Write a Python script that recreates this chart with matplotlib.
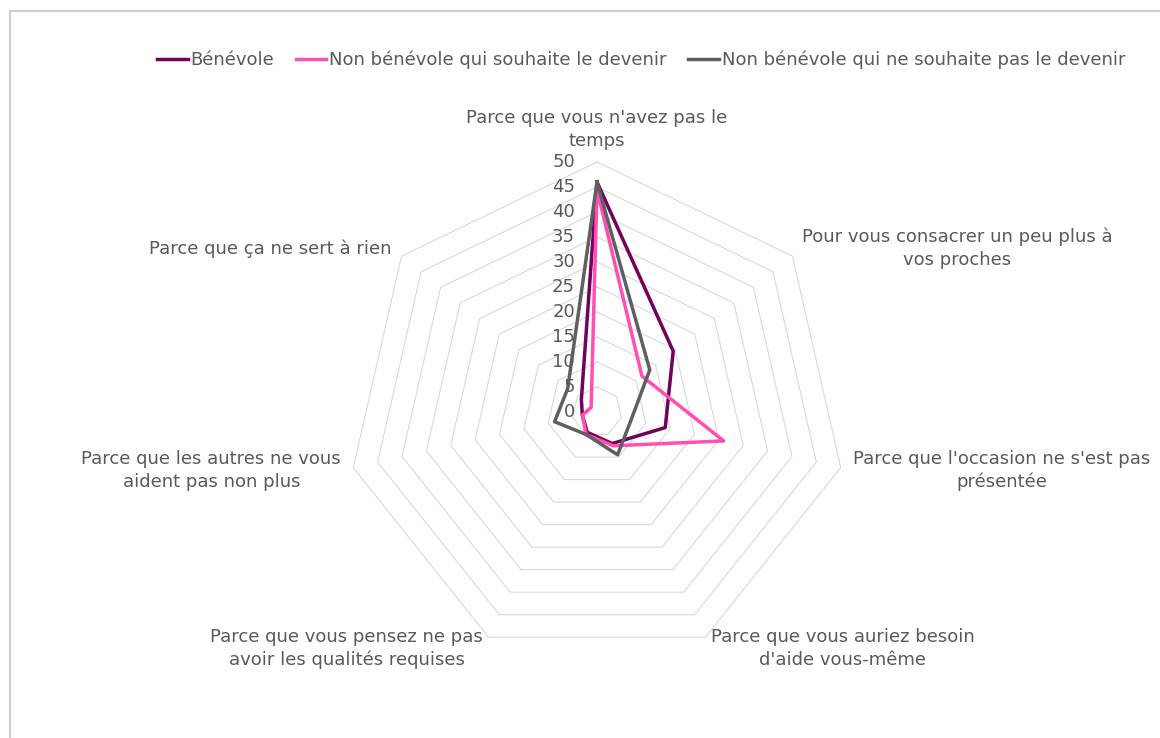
import numpy as np
import matplotlib
matplotlib.use("Agg")
import matplotlib.pyplot as plt
from matplotlib.patches import Rectangle

# categories, clockwise from the top
categories = [
    "Parce que vous n'avez pas le\ntemps",
    "Pour vous consacrer un peu plus à\nvos proches",
    "Parce que l'occasion ne s'est pas\nprésentée",
    "Parce que vous auriez besoin\nd'aide vous-même",
    "Parce que vous pensez ne pas\navoir les qualités requises",
    "Parce que les autres ne vous\naident pas non plus",
    "Parce que ça ne sert à rien",
]
series_names = [
    "Bénévole",
    "Non bénévole qui souhaite le devenir",
    "Non bénévole qui ne souhaite pas le devenir",
]
benevole = [46, 19.5, 14, 7, 4.5, 3, 4]
souhaite = [44.5, 11.5, 26, 7.5, 5, 3, 1.5]
ne_souhaite_pas = [46, 13.5, 7, 9.5, 5, 8.7, 7.5]
ticks = [0, 5, 10, 15, 20, 25, 30, 35, 40, 45, 50]

colors = ["#72005c", "#ff4fb3", "#5f5f5f"]
text_color = "#595959"
grid_color = "#d9d9d9"

plt.rcParams['font.family'] = ['DejaVu Sans']
fs = 13.0

W, H = 1160, 738
fig = plt.figure(figsize=(W / 100, H / 100), dpi=100)

# chart frame
fig.patches.append(Rectangle((10 / W, -0.1), 1.2, 1 - 11 / H + 0.1, transform=fig.transFigure,
                             fill=False, edgecolor="#d0d0d0", linewidth=1.5))

# axes: 5 px per unit, centre at (597, 412) from the top
cx, cy = 597, H - 412
half = 300
ax = fig.add_axes([(cx - half) / W, (cy - half) / H, 2 * half / W, 2 * half / H])
ax.set_xlim(-60, 60)
ax.set_ylim(-60, 60)
ax.set_axis_off()

n = len(categories)
angles = np.arange(n) * 2 * np.pi / n
ux, uy = np.sin(angles), np.cos(angles)


def to_xy(vals):
    v = np.asarray(vals, dtype=float)
    x = v * ux
    y = v * uy
    return np.append(x, x[0]), np.append(y, y[0])


# rings
for t in ticks[1:]:
    gx, gy = to_xy([t] * n)
    ax.plot(gx, gy, color=grid_color, linewidth=0.8, zorder=1)

# tick labels
for t in ticks:
    ax.text(-4.4, t, str(t), ha="right", va="center", fontsize=fs, color=text_color)

# series
handles = []
for vals, name, c in zip([benevole, souhaite, ne_souhaite_pas], series_names, colors):
    sx, sy = to_xy(vals)
    h, = ax.plot(sx, sy, color=c, linewidth=2.5, label=name, zorder=3)
    handles.append(h)

# category labels
r_lab = 52.5
for i, lab in enumerate(categories):
    s = ux[i]
    if s > 0.1:
        ha = "left"
    elif s < -0.1:
        ha = "right"
    else:
        ha = "center"
    va = "bottom" if i == 0 else "center"
    ax.text(r_lab * ux[i], r_lab * uy[i], lab, ha=ha, va=va, fontsize=fs,
            color=text_color, linespacing=1.3, multialignment="center")

leg = fig.legend(handles=handles, loc="center", bbox_to_anchor=(641 / W, 1 - 60 / H), ncol=3,
                 frameon=False, fontsize=fs, handlelength=1.7, handletextpad=0.15,
                 columnspacing=1.2, borderaxespad=0)
for t in leg.get_texts():
    t.set_color(text_color)

fig.savefig("out.png", dpi=100)
